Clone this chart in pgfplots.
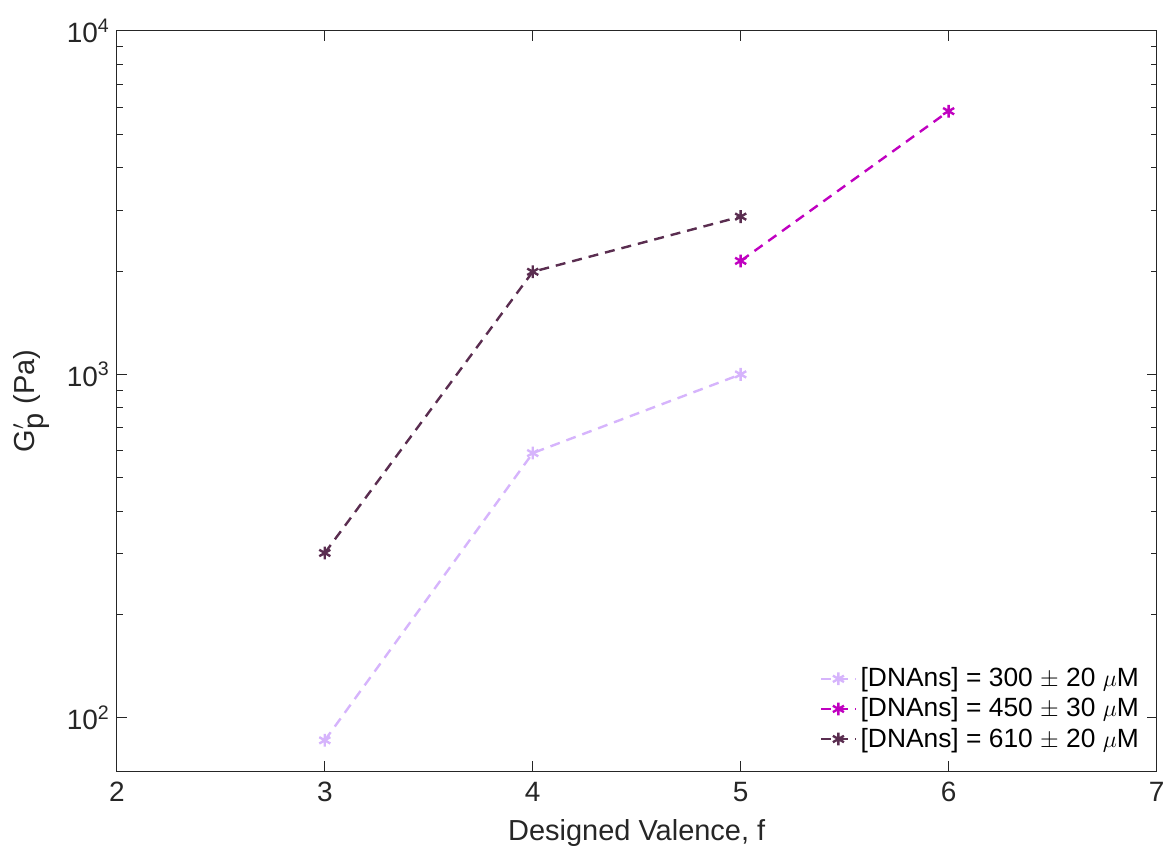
\documentclass[border=0pt]{standalone}
\usepackage{fontspec}
\setmainfont{Liberation Sans}
\usepackage{pgfplots}
\pgfplotsset{compat=1.18}
\definecolor{cA}{RGB}{214,180,252}
\definecolor{cB}{RGB}{192,0,192}
\definecolor{cC}{RGB}{90,45,80}
\definecolor{axc}{RGB}{38,38,38}
\begin{document}
\begin{tikzpicture}
\path (-58.5pt,-41pt) rectangle (527pt,386pt);
\begin{axis}[
  scale only axis, width=520.5pt, height=370.5pt,
  at={(0,0)}, anchor=south west,
  xmin=2, xmax=7, ymode=log, ymin=70, ymax=10000,
  xtick={2,3,4,5,6,7},
  ytick={100,1000,10000},
  yticklabels={10\textsuperscript{2},10\textsuperscript{3},10\textsuperscript{4}},
  /pgf/number format/assume math mode=true,
  tick align=inside, major tick length=5pt, minor tick length=3pt,
  axis line style={axc, line width=0.5pt},
  every tick/.style={axc, line width=0.5pt},
  tick label style={font=\fontsize{14}{16}\selectfont, text=axc},
  xticklabel style={yshift=-2pt},
  label style={font=\fontsize{14.5}{17}\selectfont, text=axc},
  xlabel={Designed Valence, f},
  ylabel={G$^{\prime}_{\mbox{\fontsize{14.5}{17}\selectfont p}}$ (Pa)},
  xlabel style={yshift=-2pt},
  ylabel style={yshift=2pt},
  legend style={at={(rel axis cs:0.993,0.017)}, anchor=south east, draw=none, fill=none,
    font=\fontsize{13.2}{15}\selectfont, row sep=0pt},
  legend cell align=left,
  every axis plot/.append style={line width=1.2pt, dash pattern=on 5pt off 3.5pt, mark=asterisk, mark size=3.2pt, mark options={solid}},
]
\addplot[cA] coordinates {(3,86) (4,590) (5,1000)};
\addlegendentry{[DNAns] = 300 $\pm$ 20 $\mu$M}
\addplot[cB] coordinates {(5,2140) (6,5840)};
\addlegendentry{[DNAns] = 450 $\pm$ 30 $\mu$M}
\addplot[cC] coordinates {(3,302) (4,1990) (5,2880)};
\addlegendentry{[DNAns] = 610 $\pm$ 20 $\mu$M}
\end{axis}
\end{tikzpicture}
\end{document}
